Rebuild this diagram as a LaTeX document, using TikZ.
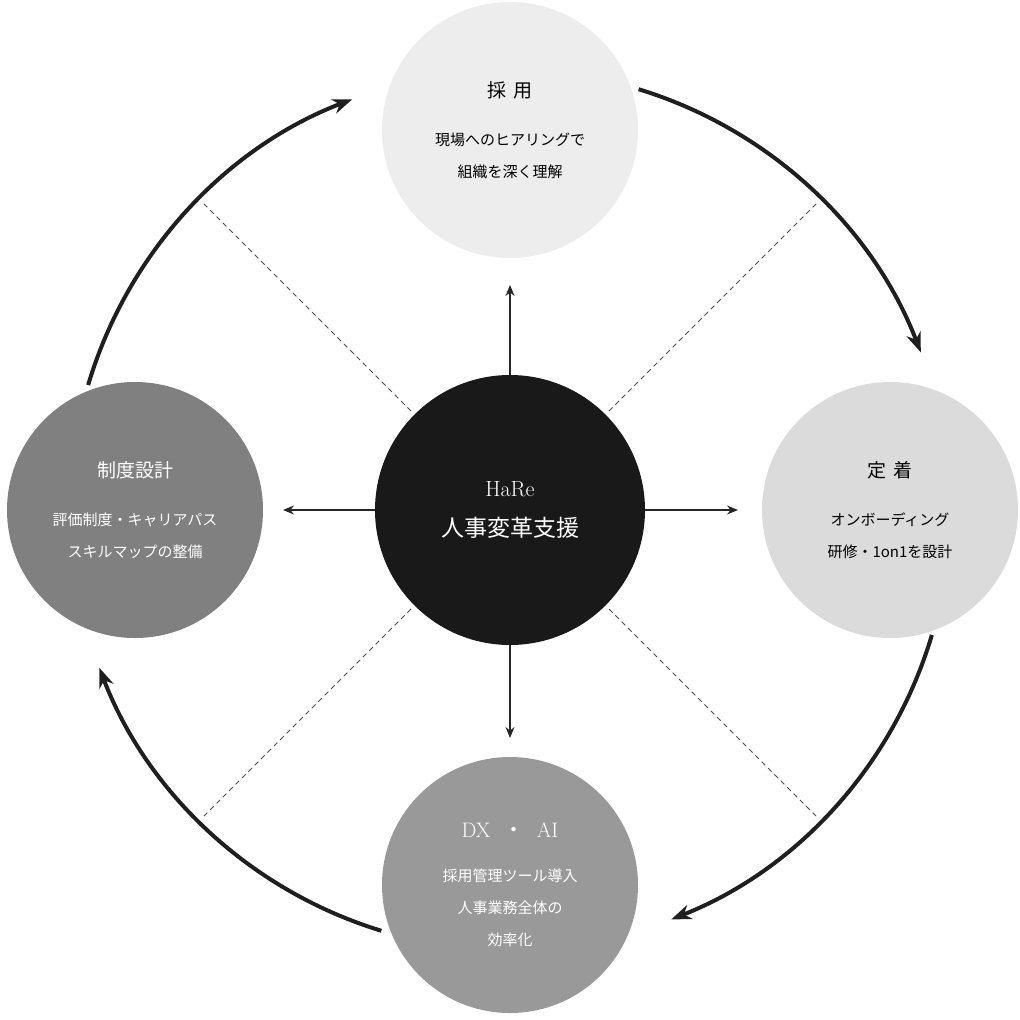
\documentclass[tikz,border=0pt]{standalone}
\usepackage{fontspec}
\newfontfamily\jp{Noto Sans CJK JP}
\usetikzlibrary{arrows.meta,calc}
\begin{document}
\begin{tikzpicture}[x=1pt,y=-1pt,
  sat/.style={circle,minimum size=256pt,inner sep=0pt,align=center,font=\jp\fontsize{15}{32}\selectfont},
  spoke/.style={-{Stealth[length=11pt,width=9pt]},line width=1.5pt,black!85},
  cyc/.style={-{Stealth[length=20pt,width=15pt]},line width=4pt,black!88},
  dashline/.style={dash pattern=on 5pt off 4pt,line width=0.8pt,black!70}]
\useasboundingbox (0,0) rectangle (1020,1020);
\coordinate (c) at (510,510);
\foreach \a in {45,135,225,315}
  \draw[dashline] ($(c)+(\a:140)$) -- ($(c)+(\a:435)$);
\node[sat,fill=black!7] (top) at (510,130) {{\jp\fontsize{19}{20}\selectfont 採\,\,用}\\[16pt]現場へのヒアリングで\\組織を深く理解};
\node[sat,fill=black!14] (right) at (890,510) {{\jp\fontsize{19}{20}\selectfont 定\,\,着}\\[16pt]オンボーディング\\研修・1on1を設計};
\node[sat,fill=black!40,text=white] (bottom) at (510,885) {{\rmfamily\fontsize{21}{20}\selectfont DX\ \ {\jp ・}\ \ AI}\\[12pt]採用管理ツール導入\\人事業務全体の\\効率化};
\node[sat,fill=black!50,text=white] (left) at (135,510) {{\jp\fontsize{19}{20}\selectfont 制度設計}\\[16pt]評価制度・キャリアパス\\スキルマップの整備};
\node[circle,minimum size=270pt,fill=black!90,text=white,align=center,font=\jp\fontsize{23}{40}\selectfont] (mid) at (c) {{\rmfamily\fontsize{22}{20}\selectfont HaRe}\\人事変革支援};
\coordinate (tu) at (510,285); \coordinate (tr) at (738,510);
\coordinate (td) at (510,738); \coordinate (tl) at (283,510);
\draw[spoke] (mid.north) -- (tu);
\draw[spoke] (mid.east) -- (tr);
\draw[spoke] (mid.south) -- (td);
\draw[spoke] (mid.west) -- (tl);
\draw[cyc] ($(c)+(-73:440)$) arc[start angle=-73,end angle=-21,radius=440];
\draw[cyc] ($(c)+(16.5:440)$) arc[start angle=16.5,end angle=68.5,radius=440];
\draw[cyc] ($(c)+(107:440)$) arc[start angle=107,end angle=159,radius=440];
\draw[cyc] ($(c)+(-163.5:440)$) arc[start angle=-163.5,end angle=-111,radius=440];
\end{tikzpicture}
\end{document}
